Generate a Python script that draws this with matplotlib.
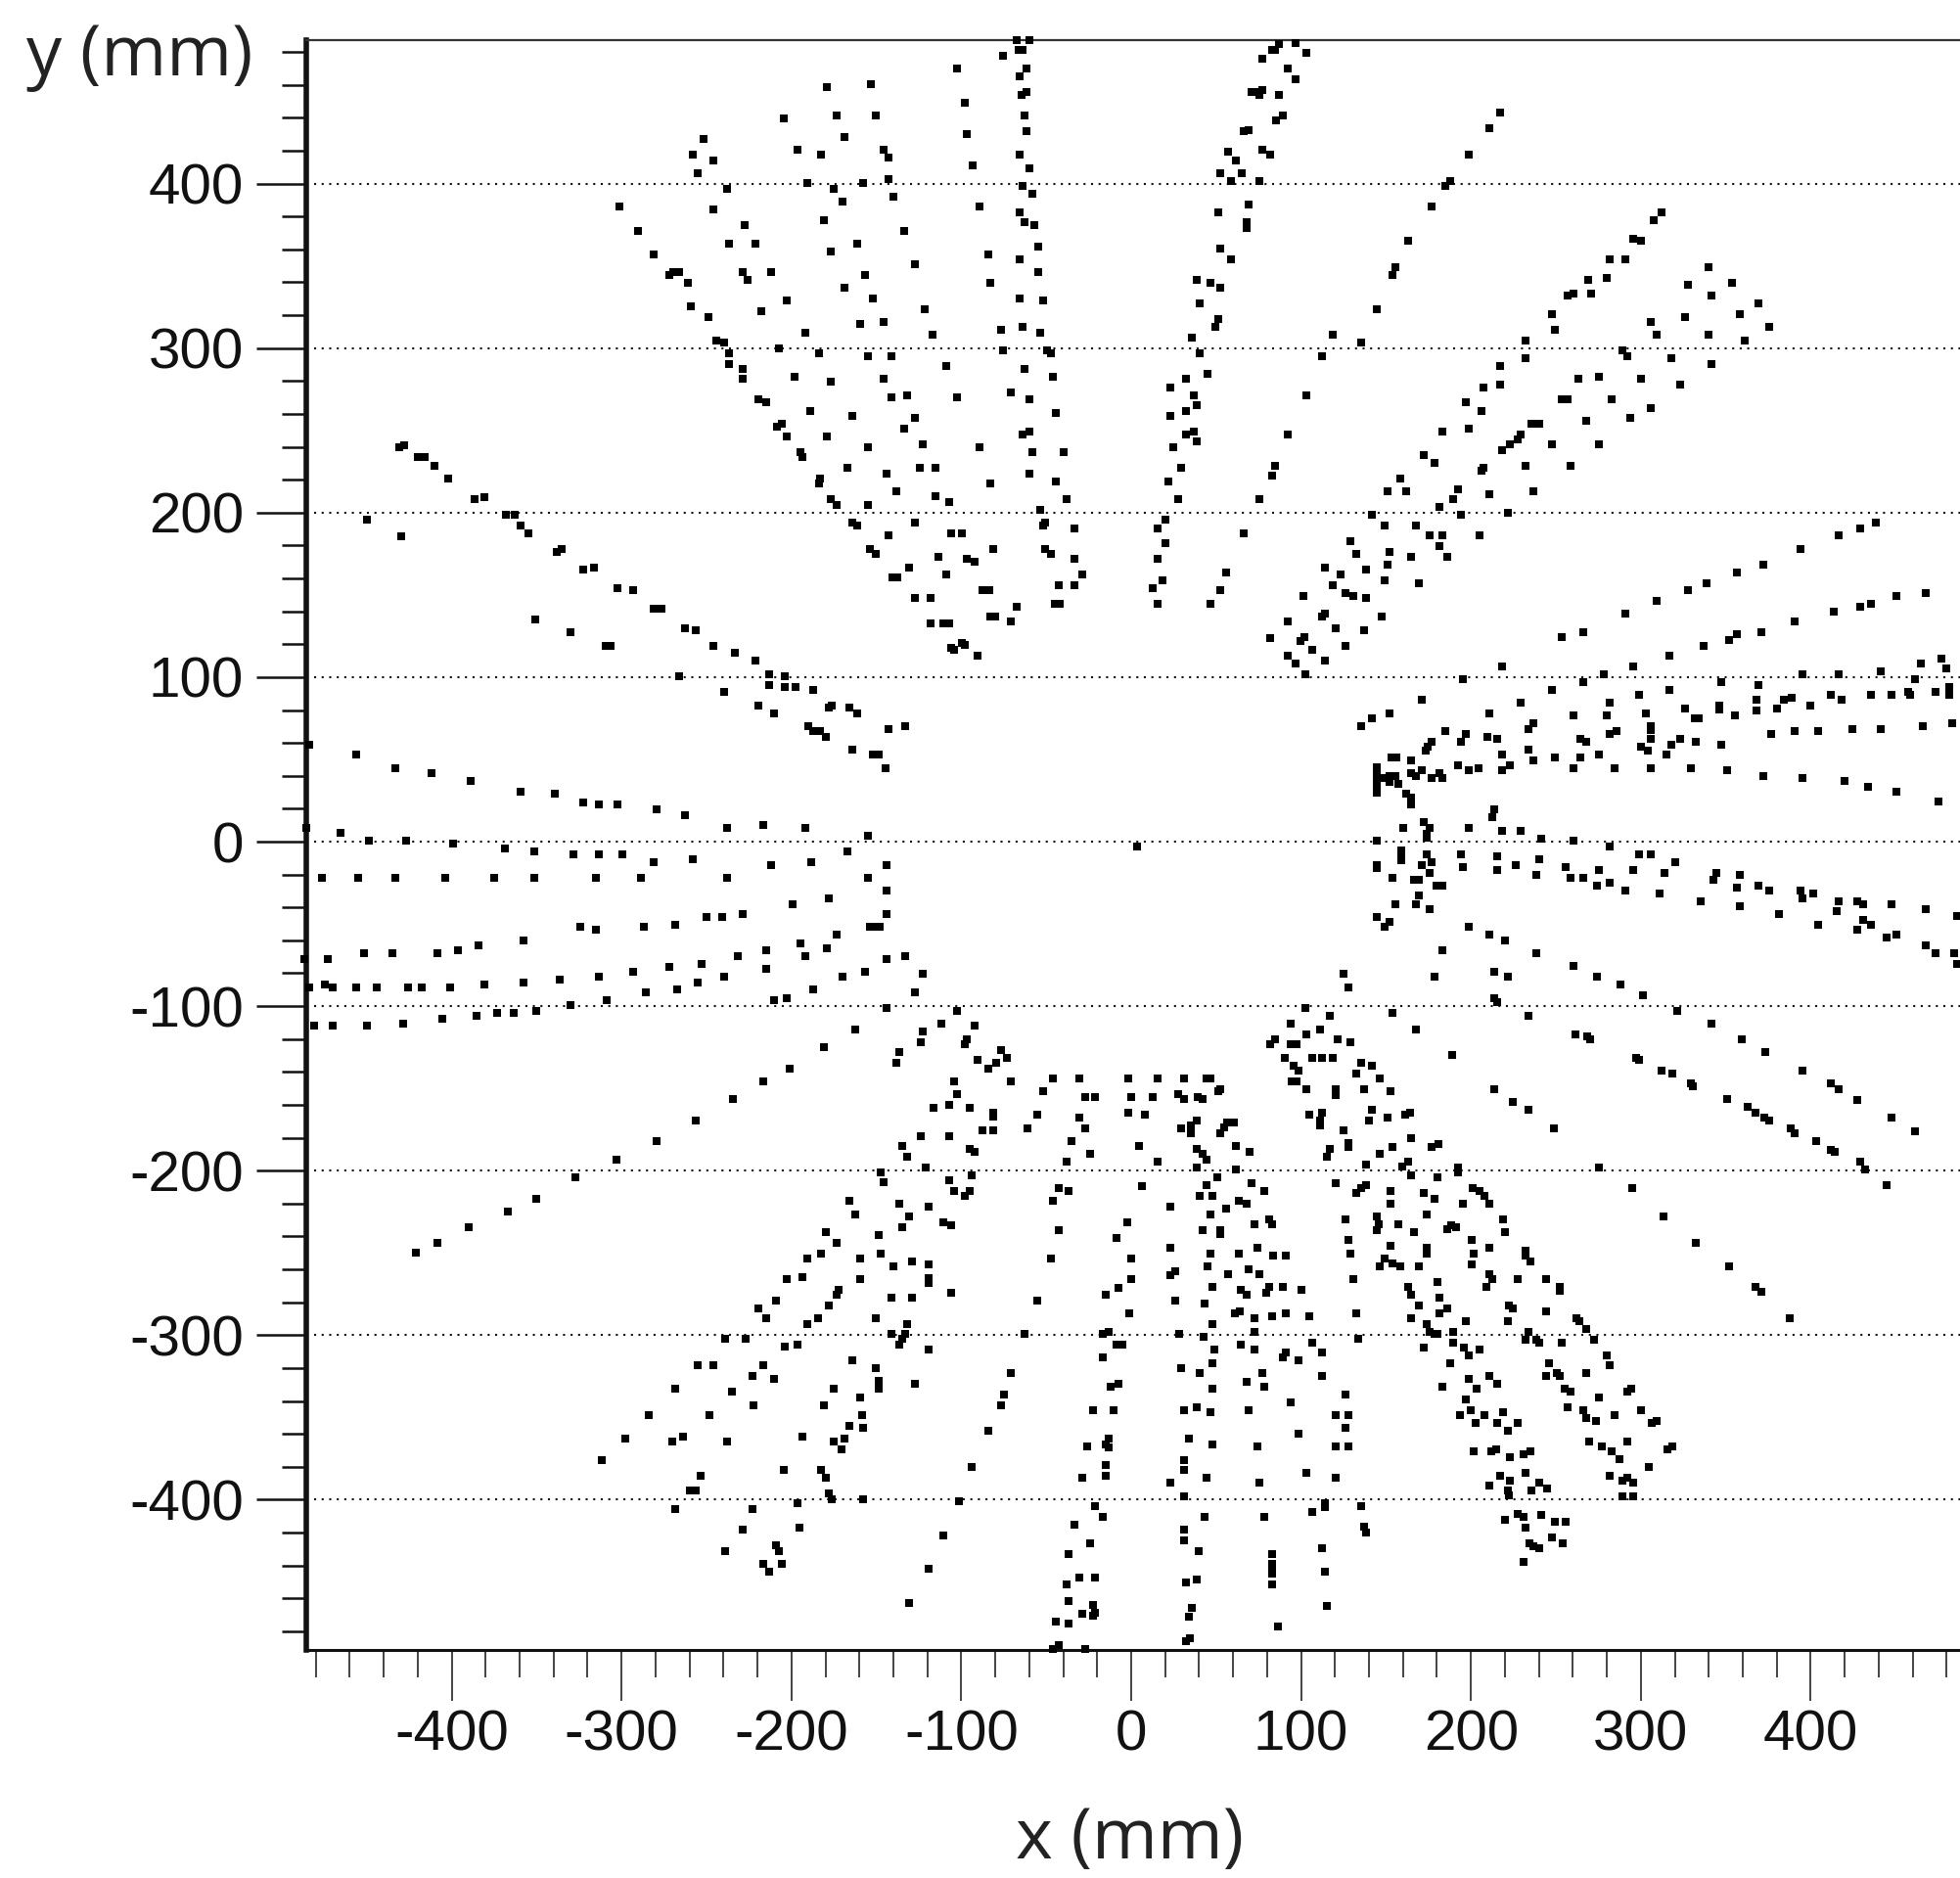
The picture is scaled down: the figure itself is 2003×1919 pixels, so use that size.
import matplotlib
matplotlib.use("Agg")
import matplotlib.pyplot as plt
from matplotlib.ticker import MultipleLocator

x_tick_labels = [-400, -300, -200, -100, 0, 100, 200, 300, 400]
y_tick_labels = [-400, -300, -200, -100, 0, 100, 200, 300, 400]

hits_far_upper_left = [(-431,240),(-428,241),(-420,234),(-416,234),(-410,228.7),(-402.3,220.7),(-386.8,208.1),(-380.9,209.6),
(-368.3,198.6),(-362.9,198.6),(-359.3,192.3),(-354.7,187.5),(-338,176),(-335,178),(-322.3,165.1),(-316.4,166.8),(-450.1,195.5),(-430,185.8),(-351,135)]

hits_upper_left = [(-67.3,487.3),(-59.8,487.3),(-75.3,477.9),(-66.5,481),(-63.9,481),(-102.8,469.8),(-61.4,469.8),(-65.8,465.2),(-179.4,458.9),(-153.5,460.4),
(-61.4,455.5),(-64.5,454),(-97.9,449.2),(-173.5,441.2),(-150.4,441.2),(-62.7,441.2),(-204.4,439.7),(-61.4,432),(-96.6,430.3),(-168.9,428.6),(-251.7,427.1),
(-196.4,420.8),(-145.7,420.8),(-182.8,417.6),(-257.9,417.6),(-142.9,415.9),(-65.8,417.6),(-245.8,414.2),(-93.5,411.3),(-59.8,409.4),(-255,406.5),(-142.9,403),
(-190.5,400.2),(-158.1,400.2),(-64.2,398.5),(-238.1,397),(-175.1,397),(-58,393.8),(-139.8,392.1),(-170.2,389),(-301.1,385.8),(-89.2,385.8),(-245.8,384.1),
(-65.8,382.7),(-181,377.8),(-62.7,376.4),(-56.8,374.7),(-227.3,374.7),(-290.3,371.5),(-133.4,371.5),(-236.5,363.5),(-221.1,363.5),(-161.2,363.5),(-55,361.8),
(-176.6,358.9),(-281,357.2),(-84.3,357.2),(-65.8,354),(-127.2,350.9),(-55,346),(-228.8,346),(-211.8,346),(-271.8,344.6),(-269.7,346),(-266.1,346),(-156.5,344.6),
(-225.7,341.4),(-261.2,339.7),(-83,339.7),(-168.9,336.5),(-151.9,330.2),(-65.8,330.2),(-52.1,328.8),(-202.8,328.8),(-259.4,325.6),(-121.3,323.9),(-218,322.5),
(-248.9,319.1),(-145.7,316.1),(-159.6,314.4),(-64.2,312.7),(-76.6,311.3),(-53.7,309.6),(-191.8,309.6),(-116.7,308.1),(-244,304.7),(-239.6,303.3),(-207.2,300.1),
(-75.3,298.4),(-49.5,298.4),(-47.2,297),(-236.5,297),(-184,297),(-155,295.3),(-141.1,295.3),(-236.5,290.6),(-109,288.9),(-62.7,287.5),(-228.8,287.5),(-198.2,282.6),
(-46,282.6),(-228.8,281.2),(-145.7,281.2),(-176.6,279.5),(-70.6,273.2),(-141.1,270),(-132.1,271.5),(-102.8,270),(-59.8,268.6),(-219.6,268.6),(-215,266.9),
(-188.9,262),(-44.4,260.5),(-164.3,258.8),(-127.2,257.4),(-205.7,254.2),(-208.7,252.5),(-133.4,251.1),(-59.8,249.4),(-64.2,247.7),(-179.4,246.2),(-202.8,246.2),
(-122.8,241.4),(-155,239.9),(-89.2,239.9),(-194.9,236.8),(-193.6,233.6),(-58,236.8),(-39.8,236.8),(-167.3,227.3),(-124.4,227.3),(-115.1,227.3),(-144.2,223.9),
(-59.8,223.9),(-183.3,220.7),(-184,217.8),(-44.4,219),(-83,217.6),(-138.3,212.9),(-115.1,209.8),(-38.2,208.1),(-176.6,208.1),(-173.5,204.9),(-107.4,206.4),
(-155,204.9),(-53.7,201.8),(-50.6,194),(-52.1,192.3),(-127.2,194),(-164.3,194),(-161.2,192.3),(-33.6,190.6),(-105.9,187.5),(-99.7,187.5),(-142.9,186),
(-153.7,178),(-150.4,174.8),(-81.2,178),(-50.6,178),(-47.2,174.8),(-113.6,173.4),(-96.6,171.7),(-92.3,170),(-33.6,171.7),(-130.6,166.8),(-109,162.2),(-29,162.2),
(-140.3,160.5),(-137.5,160.5),(-42.6,155.6),(-33.6,155.6),(-302.6,154.2),(-293.4,152.7),(-87.6,152.7),(-83.8,152.7),(-127.2,147.9),(-118.2,147.9),(-44.9,144.7),
(-41.8,144.7),(-67.3,143),(-281,141.6),(-276.4,141.6),(-83,136.7),(-79.9,136.7),(-118.2,132.8),(-110.5,132.8),(-106.9,132.8),(-70.6,133.6)]

hits_upper_mid = [(77,476.1),(83.2,481),(70.6,455.5),(74.4,455.5),(77,457),(75.2,454),(85.5,438.3),(66.2,432),(69.3,432.7),(57.2,419.1),(77,420.8),(81.6,417.6),
(61.8,414.2),(52.6,406.5),(64.9,406.5),(58.7,401.6),(75.4,401.6),(69.3,387.3),(51,382.7),(68,376.4),(68,372.9),(52.6,360.3),(58.7,354),(38.7,341.4),(46.4,339.7),
(52.6,336.5),(40.2,327),(51,317.6),(49.5,312.7),(35.6,306.4),(40.2,297),(44.8,284.1),(32.5,281.2),(23.2,276.3),(37.1,271.5),(38.7,265.2),(32.5,262),(23.2,258.8),
(37.1,249.4),(32.5,247.7),(38.7,243.1),(24.8,239.9),(29.4,227.3),(21.7,219),(27.9,208.1),(19.9,195.5),(15.5,190.6),(20.2,181.2),(15.5,171.7),(18.6,159),(12.4,154.2),
(15.5,144.7),(84.7,228.7),(83.2,222.4),(75.4,208.1),(66.2,187.5),(55.6,163.7),(52.6,152.7),(46.4,144.7),(81.6,124)]

hits_upper_right = [(86.8,484.9),(84.7,481.2),(97,485.6),(103.2,479.5),(92.4,469.8),(97,463.5),(86.8,454),(89.3,441.2),(216.9,442.9),(210.7,433.4),(198.6,417.6),
(187.8,401.6),(184.8,398.5),(177,385.8),(312.3,382.7),(307.7,377.8),(163.1,365.2),(295.6,366.6),(300.2,365.2),(281.5,354),(290.7,354),(155.4,349.4),(153.9,344.6),
(339.8,349.4),(279.9,342.9),(269.1,341.4),(327.8,338.2),(353.7,339.7),(260.1,333.4),(257,331.9),(270.7,333.4),(341.4,331.9),(369.2,327),(144.6,323.9),(247.8,320.8),
(358.4,320.8),(326.2,319.1),(306.1,316.1),(375.3,312.7),(249.3,311.3),(118.6,308.1),(309.2,308.1),(339.8,308.1),(232.3,304.7),(361.4,304.7),(135.4,303.3),(289.2,298.4),
(292.3,295.3),(112.5,295.3),(232.3,293.8),(318.2,293.8),(216.9,288.9),(341.4,290.6),(275.3,282.6),(263.2,281.2),(300.2,281.2),(216.9,277.8),(207.6,276.3),(323.1,277.8),
(103.2,271.5),(253.7,268.6),(257,268.6),(283,268.6),(197.1,266.9),(306.1,263.7),(206.4,262),(293.8,257.4),(267.6,255.7),(235.4,254.2),(240,254.2),(198.6,251.1),
(183.2,249.4),(92.4,247.7),(229.2,247.7),(227.7,244.5),(223.1,241.4),(218.4,238.2),(247.8,241.4),(275.3,241.4),(172.4,235.1),(178.6,230.4),(232.3,228.7),(258.6,228.7),
(207.6,227.3),(206.1,225.6),(158.5,220.9),(150.8,212.9),(161.6,212.9),(192.5,214.4),(237,212.9),(210.7,211.2),(189.4,208.1),(181.7,203.2),(141.5,198.6),(194,198.6),
(221.5,200.1),(149.3,192.3),(167.8,192.3),(438.4,193.8),(429.1,190.6),(416.7,186),(175.5,186),(183.2,186),(204.8,186),(129.2,182.6),(181.7,179.7),(393.9,178),
(152.3,176.3),(132.3,174.8),(164.7,173.4),(186.3,173.4),(150.8,168.5),(113.8,166.8),(372.2,168.5),(138.5,165.4),(356.8,163.7),(123.3,162.2),(149.3,159),(169.3,157.3),
(118.4,155.6),(338.6,157.3),(327.8,152.7),(126.4,151),(130.7,149.6),(101.4,149.6),(467.7,151),(450.7,149.6),(138.5,147.9),(309.2,146.2),(435.3,144.7),(429.1,143),
(413.7,139.9),(290.7,138.4),(113.8,138.4),(112.5,136.7),(147.7,136.7),(92.4,133.6),(390.5,133.6)]

hits_right = [(120.2,129.7),(137.2,128.5),(99.6,121.9),(101.9,124.1),(126.4,119.2),(106.3,116.3),(92.4,113.2),(97,108.3),(114,109.8),(102.7,101.8),(253.7,124.1),(266.3,127.3),
(370.7,127.3),(356.8,126),(352.2,122.4),(336.8,119.2),(317,113.2),(476.7,111.5),(464.6,108.3),(479.8,105.2),(218.4,106.6),(295.6,106.6),(278.4,101.8),(395.4,101.8),
(416.7,101.8),(441.2,103.5),(461.5,98.6),(195.3,98.6),(266.3,97.2),(347.5,97.2),(369.2,95.4),(247.8,92.3),(317,92.3),(473.6,90.8),(481.3,94),(481.3,89.1),(457.1,90.8),
(458.4,89.1),(298.7,89.1),(412.1,89.1),(435.3,89.1),(447.6,89.1),(170.9,86),(389,87.7),(384.3,86),(418.3,86),(281.5,84.5),(229.2,84.5),(367.9,86),(367.9,79.7),(346.3,82.8),
(346.3,80.4),(400,82.8),(326,81.1),(380,81.1),(152.3,78.2),(210.7,78.2),(303,78.2),(260.1,76.5),(279.9,76.5),(355.3,76.5),(141.5,74.8),(331.6,74.8),(334.2,74.8),(135.4,70.2),
(237,71.9),(233.9,68.5),(306.1,70.2),(306.1,67.8),(483.1,71.9),(465.9,70.2),(441.4,68.5),(424.5,68.5),(390.5,67),(404.4,67),(286,67),(281.5,65.3),(184.7,67),(376.9,65.3),
(197.1,65.3),(194,60.5),(209.4,63.9),(215.4,62.2),(306.1,62.2),(322.9,62.2),(318.2,59),(264.5,62.2),(267.8,60.5),(332.1,60.5),(347.5,59),(176.8,60.5),(174.7,57.6),(173.4,55.6),
(300.2,57.6),(304.1,55.6),(233.9,55.9),(218.4,52.7),(315.1,52.7),(275.3,52.7),(249.3,51.3),(264.5,51.3),(237,49.6),(153,51.3),(156,51.3),(164.7,49.6),(223.1,46.4),(218.4,43.2),
(192.5,46.4),(204.6,44.7),(198.6,43.2),(260.1,44.7),(284.5,44.7),(306.1,44.7),(329.3,44.7),(350.6,43.2),(170.9,43.2),(164.7,41.8),(167.8,40.1),(181.7,41.8),(177,38.4),(183.2,38.4),
(372.2,40.1),(395.4,38.4),(419.8,36.9),(433.7,33.5),(450.7,30.6),(475.4,24.1),(144.6,45),(144.6,41),(144.6,37),(144.6,33),(144.6,30),(149,38.6),(152,39.8),(155.4,39.8),(152,36.2),
(157.5,35),(161.6,28.9),(164.7,26.5),(164.7,22.4),(213.8,19.5),(212.5,14.6),(172.4,11.9),(175.5,8.3),(174,4.6),(174,2.2),(160,8.3),(198.6,8.3),(218.4,6.6),(229.2,6.6),(241.3,2),
(260.1,0.3),(144.6,0.3),(281.5,-2.9),(158.8,-5.1),(158.8,-8),(158.8,-11.1),(173.9,-7.7),(177,-12.4),(194,-7.7),(215.6,-9.2),(240,-10.6),(298.7,-7.7),(306.1,-7.7),(320,-12.4),
(170.9,-14),(226.2,-14),(144.6,-14),(144.6,-16),(195.5,-15.5),(215.6,-17.2),(255.5,-15.5),(275.3,-17.2),(295.6,-17.2),(175.5,-18.9),(313.9,-18.9),(344.5,-18.9),(342.9,-23.3),
(238.5,-20.4),(258.6,-21.8),(266,-21.8),(358.4,-20.4),(153.9,-21.8),(166.5,-23.3),(169.6,-23.3),(274,-26.7),(281.5,-25.2),(179.9,-26.7),(183,-26.7),(369.2,-26.7),(356.8,-28.1),
(290.7,-29.8),(375.3,-29.8),(310.8,-31.3),(393.9,-29.8),(395.4,-34.7),(401.6,-31.3),(335.5,-36.1),(416.7,-36.1),(427.5,-36.1),(430.6,-37.8),(447.6,-37.8),(155.4,-37.8),(169.6,-33),
(167.8,-37.8),(358.4,-39.3),(175.5,-41),(467.7,-41),(415.2,-42.5),(381.5,-44.2),(485.9,-45.1),(144.6,-45.6),(152.3,-48.8),(149.3,-51.9),(430.6,-47.3),(435.3,-50.5),(427.5,-53.6),
(404.4,-50.5),(198.6,-51.9),(210.7,-56.8),(220,-60),(444.5,-58.2),(450.7,-56.8),(467.7,-63.1),(183.2,-66.3),(238.5,-68),(473.6,-68),(484.4,-68),(485.9,-74.3),(260.1,-75.7),
(213.8,-78.9),(221.5,-82.3),(124.8,-80.6),(127.9,-88.6),(178.6,-82.3),(274,-82.3),(287.9,-86.9),(301.5,-93.2),(213.8,-94.9),(215.4,-97.8),(321.6,-102.7),(102.7,-101.2),(153.9,-104.4),
(116.9,-105.8),(233.9,-105.8),(94,-110.7),(341.4,-110.7),(412.1,-147.1),(416.7,-150.3),(427.5,-156.8),(447.6,-168),(461.5,-175.8),(403.1,-182),(411.9,-187.2),(413.9,-188.4),
(429.1,-194.5),(432.2,-199.3),(444.5,-209)]

hits_centre = [(3.3,-2.8),(-106.2,118),(-104.3,116.6),(-99.8,121),(-97.9,119.4),(-90.6,113)]

hits_left = [(-330.3,127.3),(-262.4,129.7),(-256.5,128.5),(-309.5,119.2),(-306.4,119.2),(-245.7,119.2),(-233.3,114.6),(-221,109.8),(-213.3,101.8),(-204,100.3),(-266,100.3),(-213.3,95.4),
(-204,94),(-197.8,94),(-187.3,92.3),(-239.5,90.8),(-219.4,82.8),(-177.8,81.4),(-176.2,82.8),(-165.7,81.4),(-161.1,78.2),(-210.2,78.2),(-190.1,70.2),(-187,67),(-183.2,67),(-179.6,63.9),
(-142.8,68.5),(-133.3,70.2),(-164.1,55.9),(-151.8,52.7),(-148.7,52.7),(-144.3,44.7),(-484.1,59),(-456.3,52.7),(-433.2,44.7),(-411.6,41.5),(-388.7,36.9),(-359.4,30.6),(-339.3,28.9),
(-322.6,24),(-313.3,22.6),(-302.5,22.6),(-279.4,19.5),(-262.4,16.3),(-485.4,8.3),(-238,8.3),(-216.4,10),(-191.7,8.3),(-154.9,3.4),(-465.6,5.1),(-448.6,0.3),(-427,0.3),(-399.2,-1.2),
(-368.6,-4.3),(-351.6,-6),(-167,-6),(-328.5,-7.7),(-313.3,-7.7),(-299.4,-7.7),(-258,-10.9),(-280.9,-12.4),(-188.6,-12.4),(-211.7,-14),(-144.1,-14),(-476.4,-21.8),(-454.8,-21.8),
(-433.2,-21.8),(-403.9,-21.8),(-374.8,-21.8),(-351.6,-21.8),(-314.9,-21.8),(-288.6,-21.8),(-238,-21.8),(-154.9,-21.8),(-144.1,-29.8),(-177.8,-34.7),(-199.4,-37.8),(-144.1,-44.2),
(-228.7,-44.2),(-250,-45.6),(-241,-45.6),(-153.6,-51.9),(-150.5,-51.9),(-148.2,-51.9),(-324.1,-51.9),(-314.9,-53.6),(-287.1,-51.9),(-268.6,-50.5),(-173.4,-56.8),(-357.8,-60),
(-194.7,-61.6),(-384,-63.1),(-179.3,-64.6),(-396.4,-66.3),(-214.8,-66.3),(-451.4,-68),(-434.7,-68),(-408.5,-68),(-191.7,-69.4),(-231.8,-69.4),(-486.7,-71.1),(-473,-71.1),(-144.1,-71.1),
(-133.3,-69.4),(-253.1,-74.3),(-271.7,-76),(-214.8,-77.4),(-293.3,-78.9),(-156.4,-78.9),(-122.7,-80.6),(-313.3,-82.3),(-239.5,-82.3),(-170.1,-82.3),(-336.2,-83.7),(-357.8,-85.4),
(-254.9,-85.4),(-381,-86.9),(-474.6,-86.9),(-470,-88.6),(-484.1,-88.6),(-456.3,-88.6),(-444,-88.6),(-425.5,-88.6),(-417.7,-88.6),(-400.8,-88.6),(-267.3,-90),(-187.3,-90),(-127.1,-91.8),
(-285.5,-91.8),(-202.5,-94.9),(-210.2,-96.6),(-308.7,-96.6),(-330.3,-99.5),(-144.1,-101.2),(-102.7,-102.7),(-350.1,-102.7),(-373.2,-104.4),(-363.7,-104.4),(-385.6,-105.8),(-405.4,-107.5),
(-428.5,-110.7),(-111.9,-110.7),(-481,-112.1),(-470,-112.1),(-450.1,-112.1),(-92.2,-112.1),(-390,-234.5),(-408.5,-244),(-420.8,-250)]

hits_lower_left = [(-162.6,-114.2),(-122.8,-115.4),(-124,-122),(-96.5,-120.3),(-98.1,-123.4),(-76.5,-126.8),(-73.4,-131.2),(-181.1,-124.9),(-136.6,-128.1),(-138.2,-134.6),(-90.4,-132.9),
(-79.5,-134.4),(-84.2,-137.8),(-201.2,-137.8),(-216.6,-145.5),(-104.2,-145.5),(-70.6,-145.5),(-45.9,-144.1),(-30.4,-144.1),(-51.8,-151.8),(-102.7,-153.5),(-27.3,-155),(-21.2,-155),
(-234.6,-156.7),(-107.3,-159.9),(-116.3,-161.6),(-95,-161.6),(-81.1,-164.7),(-81.1,-166.9),(-55.1,-166.2),(-30.4,-167.9),(-256.5,-169.3),(-61,-174.2),(-27.3,-174.2),(-87.3,-175.6),
(-81.1,-175.6),(-124,-178.8),(-107.3,-178.8),(-35,-182),(-279.4,-182),(-134.8,-185.1),(-95,-186.6),(-91.9,-188.3),(-302.8,-193.1),(-131.8,-191.4),(-24.3,-190),(-38.1,-194.6),(-121.2,-198),
(-147.2,-201.1),(-145.6,-207.2),(-93.7,-202.6),(-327.2,-204.3),(-107.3,-205.8),(-104.2,-212.1),(-95,-212.1),(-98.1,-215.2),(-42.8,-210.4),(-36.6,-212.1),(-45.9,-218.6),(-350.1,-216.9),
(-165.7,-218.6),(-162.4,-226.4),(-136.6,-220.1),(-119.4,-221.8),(-367.1,-224.9),(-130.5,-228.1),(-134.8,-234.4),(-110.4,-231.2),(-105.8,-233),(-42.8,-236.1),(-179.6,-237.6),(-173.4,-244.1),
(-148.7,-239.3),(-8.8,-240.7),(-182.7,-250.4),(-190.4,-253.3),(-147.2,-250.4),(-159.5,-253.3),(-128.9,-255),(-119.4,-256.7),(-139.7,-258.2),(-47.4,-253.3),(-119.4,-265.5),(-119.4,-268.4),
(-202.5,-266.2),(-193.5,-264.8),(-159.5,-266.2),(-7.3,-271.1),(-172.1,-272.5),(-173.4,-275.7),(-105.8,-274.2),(-15,-275.7),(-208.9,-278.8),(-55.1,-278.8),(-141,-277.4),(-128.9,-277.4),
(-178.1,-282),(-219.5,-283.7),(-214.8,-290),(-150.3,-290),(-184.2,-290),(-190.4,-293.2),(-131.8,-293.2),(-141,-299.5),(-133.3,-299.5),(-134.8,-302.4),(-136.6,-306),(-16.5,-299.5),(-13.4,-298),
(-62.8,-299.5),(-239.3,-302.4),(-227.2,-302.4),(-196.3,-305.8),(-204,-307.2),(-8.8,-305.8),(-5,-305.8),(-119.4,-309),(-16.5,-313.8),(-164.2,-315.3),(-254.9,-318.4),(-245.7,-318.4),(-216.6,-318.4),
(-150.3,-320.1),(-222.8,-325),(-210.2,-326.4),(-70.6,-323.3),(-148.7,-327.9),(-148.7,-332.7),(-127.1,-329.6),(-11.9,-331.3),(-7.3,-329.6),(-268.6,-332.7),(-175,-332.7),(-234.9,-334.4),
(-74.9,-335.9),(-159.5,-337.6),(-222.6,-342.5),(-181.1,-342.5),(-76.5,-342.5),(-22.7,-345.6),(-10.4,-345.6),(-284,-348.8),(-248.5,-348.8),(-158.3,-348.8),(-165.7,-355.1),(-158,-356.5),
(-84.2,-358.2),(-297.9,-362.9),(-264,-361.4),(-193.5,-361.4),(-168.8,-362.9),(-270.1,-364.5),(-238,-364.5),(-175,-364.5),(-13.4,-363.1),(-15,-366.7),(-13.4,-368),(-25.8,-367.7),(-170.3,-369.4),
(-311.8,-375.7),(-15,-378.9),(-15,-385.2),(-93.7,-380.3),(-204.3,-382),(-182.7,-382),(-179.6,-386.6),(-29,-386.6),(-253.4,-385.2),(-259.6,-394.7),(-256.5,-394.7),(-178.1,-396.1),(-176.5,-399.5),
(-158,-399.5),(-101.4,-401),(-196.6,-402.4),(-21.2,-404.1),(-268.6,-405.8),(-222.8,-405.8),(-16.5,-410.4),(-33.5,-415.3),(-195,-417),(-228.7,-418.4),(-110.4,-421.6),(-24.3,-426.5),(-208.9,-427.9),
(-207.4,-431.1),(-239.3,-431.1),(-36.6,-432.8),(-216.6,-439.1),(-205.6,-439.1),(-213.3,-443.7),(-119.4,-442.2),(-30.4,-447.1),(-21.2,-447.1),(-38.1,-451.7),(-36.6,-461.4),(-130.5,-462.9),
(-22.7,-464.3),(-29,-469.2),(-22.7,-470.6),(-21.2,-468.7),(-44.3,-474),(-36.6,-475.5),(-42.8,-488.6),(-45.9,-491),(-27.3,-491)]

hits_lower_right_a = [(167.8,-114.2),(103.2,-117.1),(110.9,-114.2),(93.7,-123.2),(97.3,-123.2),(84.5,-120.3),(81.9,-123.2),(121.5,-120.3),(129.2,-121.7),(261.4,-117.1),(268.6,-118.3),(270.4,-120.3),
(359.7,-120.3),(373.5,-128.1),(189.1,-129.8),(297.4,-131.2),(298.7,-132.9),(90.6,-131.2),(106.3,-131.2),(112.5,-131.2),(118.7,-131.2),(135.4,-134.4),(141.6,-136.1),(95.8,-136.1),(98.6,-139.2),
(312.3,-139.2),(318.3,-140.9),(395.4,-139.2),(132.3,-140.9),(-2,-144.1),(15.5,-144.1),(31,-144.1),(44.3,-144.1),(46.9,-144.1),(146.2,-144.1),(94.5,-145.5),(97.3,-145.5),(329.6,-147),(330.9,-148.9),
(103.2,-150.4),(136.9,-150.4),(213.8,-150.4),(120.2,-150.4),(120.2,-153.8),(152.4,-151.9),(52.6,-150.4),(51,-151.9),(27.9,-153.3),(31,-156.7),(0.1,-155),(12.4,-155),(38.9,-155),(42.3,-156.7),
(350.7,-156.7),(224.6,-158.2),(363,-161.3),(367.6,-164.5),(372.5,-167.6),(375.3,-169.3),(233.9,-163),(141.6,-163),(-2,-164.5),(163.9,-164.5),(161.1,-166.2),(112.2,-164.5),(104.8,-166.2),(7.8,-166.2),
(150.8,-167.6),(111,-169.3),(111,-172.5),(140,-169.3),(38.7,-169.3),(60.3,-170.8),(56.2,-170.8),(54.6,-173.7),(35.1,-172.5),(29.2,-174.2),(388,-174.2),(390.5,-177.3),(249,-174.2),(35.3,-177.3),
(52.6,-177.3),(124.8,-175.6),(164.7,-180.5),(127.9,-183.4),(127.9,-185.8),(4.7,-185.1),(61.6,-185.1),(180.9,-183.9),(177,-185.4),(153.9,-185.4),(38.7,-186.6),(42.3,-189.7),(44.3,-193.1),(69.5,-188.3),
(116.9,-186.6),(115.3,-191.4),(146.2,-190),(15.5,-194.8),(138.5,-196.3),(163.2,-194.8),(159.8,-197.3),(38.4,-198),(61.6,-199.4),(192.5,-198),(192.5,-200.9),(275.3,-198),(164.7,-202.6),(50.8,-204.3),
(180.1,-204.3),(71.1,-207.5),(44.6,-208.9),(6.3,-209.2),(120.2,-207.5),(138.5,-208.9),(135.4,-210.6),(132.3,-213.8),(201.2,-210.6),(204.8,-212.1),(207.9,-215.5),(211,-220.1),(295.1,-210.6),
(152.4,-212.1),(78.5,-212.1),(172.4,-213.8),(178.6,-216.9),(40.2,-215.5),(47.9,-215.5),(63.4,-218.6),(68,-220.1),(152.4,-220.1),(195.3,-220.1),(23.2,-221.8),(55.7,-223.2),(46.4,-226.4),(174,-226.4),
(144.6,-228.1),(313.6,-228.1),(81.4,-229.5),(82.9,-232.7),(126.1,-229.5),(218.7,-229.5),(-2.2,-231.2),(72.6,-232.7),(145.7,-232.7),(144.6,-236.1),(157,-232.7),(186.3,-235.6),(188.1,-233.2),(191.5,-234.4),
(41.8,-236.1),(52.6,-236.1),(52.6,-238.5),(166.3,-237.6),(220,-237.6),(127.7,-242.4),(129.2,-250.4),(200.2,-242.4),(332.1,-244.1),(23.2,-247),(74.2,-247),(152.4,-245.6),(210.7,-247),(174,-247),(174,-250.4),
(232.3,-248.5),(232.3,-251.9),(46.4,-250.4),(63.4,-250.4),(201.5,-250.4),(83.4,-251.9),(90.9,-251.9),(0.1,-253.6),(149.3,-253.6),(153.9,-256.3),(158.5,-258.2),(235.2,-255),(146.2,-258.2),(44.9,-258.2),
(69.3,-259.7),(169.3,-258.2),(200.2,-256.7),(352.2,-258.2)]

hits_lower_right_b = [(26.1,-261.1),(23.2,-263.5),(75.5,-262.8),(56.9,-262.8),(210.7,-262.8),(212.5,-266),(0.1,-266.2),(130.8,-266.2),(227.7,-266.2),(180.1,-267.7),(244.4,-266.2),(209.2,-270.8),(252.2,-270.8),
(252.2,-273.3),(367.4,-270.8),(370.7,-273.7),(47.9,-270.8),(81.4,-270.8),(79.6,-274.2),(89.3,-270.8),(100.1,-272.5),(163.2,-270.8),(164.7,-275.7),(64.7,-272.5),(68,-275.7),(181.7,-277.4),(26.1,-279.1),
(43,-280.5),(169.3,-282),(222.3,-282),(224.4,-283.7),(186.3,-283.7),(181.7,-286.9),(244.4,-285.4),(132.3,-286.9),(63.9,-285.4),(61.3,-286.9),(90.9,-286.9),(83.2,-288.3),(104.8,-288.3),(-1.2,-286.9),
(72.4,-290),(164.7,-290),(262.2,-290),(264,-291.5),(387.7,-290),(221.8,-291.7),(197.1,-291.7),(47.7,-293.2),(174,-293.2),(175.5,-298),(267.6,-296.3),(233.6,-298),(189.4,-298),(72.4,-298),(180.1,-299.5),
(178.6,-299.5),(28.1,-299.5),(42.8,-300.9),(133.8,-302.4),(232.3,-302.9),(238.3,-302.9),(240.1,-304.6),(272.2,-302.9),(106.3,-304.3),(189.4,-304.3),(253.7,-304.3),(64.7,-305.8),(195.6,-307.5),(204.8,-309),
(198.7,-312.1),(172.4,-307.5),(49.2,-309),(72.4,-309),(112.2,-310.6),(279.9,-312.1),(90.9,-310.6),(89.3,-313.8),(98.6,-315.3),(47.9,-317),(187.8,-317),(246,-317),(281.5,-318.4),(29.2,-320.1),(40.2,-323.3),
(77,-323.3),(250.6,-323.3),(252.4,-325),(244.4,-325),(267.6,-323.3),(112.2,-325),(211,-325),(215.4,-329.6),(198.7,-326.7),(68,-328.1),(78.5,-331.3),(183.2,-331.3),(47.9,-332.7),(203.3,-332.7),(255.2,-332.7),
(258.8,-334.4),(294.3,-332.7),(292.3,-334.4),(126.1,-335.9),(275.3,-337.6),(197.1,-339.3),(94,-340.8),(38.7,-343.9),(256.8,-343.9),(31,-345.6),(46.4,-347.1),(69.3,-345.6),(199.9,-345.6),(266,-345.6),(300,-345.6),
(193.8,-348.8),(207.9,-348.8),(218.7,-347.1),(120.2,-348.8),(127.9,-348.8),(284.6,-348.8),(267.8,-350.2),(273.8,-351.9),(306.4,-353.4),(309.5,-351.9),(203,-353.4),(215.4,-353.4),(227.7,-353.4),(126.4,-356.5),
(221.8,-358.2),(98.6,-359.9),(34,-362.8),(292.3,-364.8),(269.4,-364.8),(47.9,-366.3),(74.2,-367.7),(120.2,-367.7),(127.9,-367.7),(276.8,-367.7),(318.8,-367.7),(315.7,-369.4),(215.1,-369.2),(212,-370.9),
(201.5,-370.9),(283,-370.9),(235.2,-370.9),(230.8,-372.3),(223.1,-374),(287.6,-375.5),(31,-375.7),(31,-382),(304.6,-380.3),(103.2,-383.5),(232.3,-383.5),(216.9,-385.2),(281.5,-385.2),(120.2,-386.6),(44.6,-386.6),
(223.1,-388.3),(289.2,-388.3),(292.3,-386.9),(295.4,-389.8),(23.2,-389.8),(75.5,-389.8),(240.1,-389.8),(244.7,-393),(210.7,-391.5),(221.5,-394.7),(222.6,-397.6),(235.4,-394.7),(31,-397.8),(289.2,-397.8),(295.4,-397.8),
(114,-401.9),(114,-404.4),(135.6,-404.1),(106.3,-407.3),(227.7,-408.7),(230.8,-410.4),(241.3,-409),(43,-410.4),(78.5,-410.4),(220,-412.1),(249.3,-413.6),(255.5,-413.6),(136.9,-416.5),(138.5,-419.9),(232.3,-416.8),
(31,-418.4),(31,-424.8),(247.8,-423.1),(234.2,-426.5),(237,-428.2),(240.1,-429.6),(254,-426.5),(112.5,-429.6),(40,-431.1),(83.2,-432.8),(230.8,-437.6),(83.2,-439.1),(83.2,-442.2),(83.2,-444.9),(114,-443.9),
(38.7,-448.8),(32.5,-450.3),(83.2,-451.7),(115.3,-464.6),(35.6,-466),(34,-470.9),(86.3,-477.2),(34.6,-484.5),(32,-486.2)]

all_hits = (hits_far_upper_left + hits_upper_left + hits_upper_mid + hits_upper_right + hits_right
            + hits_centre + hits_left + hits_lower_left + hits_lower_right_a + hits_lower_right_b)
hit_x = [p[0] for p in all_hits]
hit_y = [p[1] for p in all_hits]

W, H = 2003, 1919
plt.rcParams['font.family'] = ['Liberation Sans', 'DejaVu Sans']
fig = plt.figure(figsize=(W / 100, H / 100), dpi=100, facecolor='white')
L, R, T, B = 313, 2003, 41, 1686
ax = fig.add_axes([L / W, 1 - B / H, (R - L) / W, (B - T) / H])
ax.set_xlim((L - 1156) / 1.736, (R - 1156) / 1.736)
ax.set_ylim((860 - B) / 1.681, (860 - T) / 1.681)

for v in y_tick_labels:
    ax.axhline(v, xmin=0.005, color='#111111', lw=1.5, linestyle=(0, (1, 2.7)), zorder=1)

ax.scatter(hit_x, hit_y, marker='s', s=31, c='black', linewidths=0, clip_on=False, zorder=3)

ax.set_xticks(x_tick_labels)
ax.set_yticks(y_tick_labels)
ax.set_xticklabels([str(v) for v in x_tick_labels])
ax.set_yticklabels([str(v) for v in y_tick_labels])
ax.xaxis.set_minor_locator(MultipleLocator(20))
ax.yaxis.set_minor_locator(MultipleLocator(20))
ax.tick_params(axis='y', which='major', length=37, width=1.8, labelsize=42, pad=9, color='#111111', labelcolor='#111111')
ax.tick_params(axis='y', which='minor', length=18, width=1.8, color='#111111')
ax.tick_params(axis='x', which='major', length=37.5, width=1.1, labelsize=42, pad=6, color='#111111', labelcolor='#111111')
ax.tick_params(axis='x', which='minor', length=20, width=1.1, color='#111111')
for lab in ax.get_yticklabels():
    lab.set_y(lab.get_position()[1])

ax.spines['right'].set_visible(False)
ax.spines['left'].set_linewidth(4)
ax.spines['bottom'].set_linewidth(2.2)
ax.spines['top'].set_linewidth(1.6)
ax.spines['top'].set_color('#333333')
for s in ('left', 'bottom'):
    ax.spines[s].set_color('#111111')

fig.text(27 / W, 1 - 77 / H, 'y (mm)', family='Open Sans', fontsize=52, color='#222222', ha='left', va='baseline')
fig.text(1155 / W, 1 - 1899 / H, 'x (mm)', family='Open Sans', fontsize=52, color='#222222', ha='center', va='baseline')

fig.savefig('out.png', dpi=100, facecolor='white')
